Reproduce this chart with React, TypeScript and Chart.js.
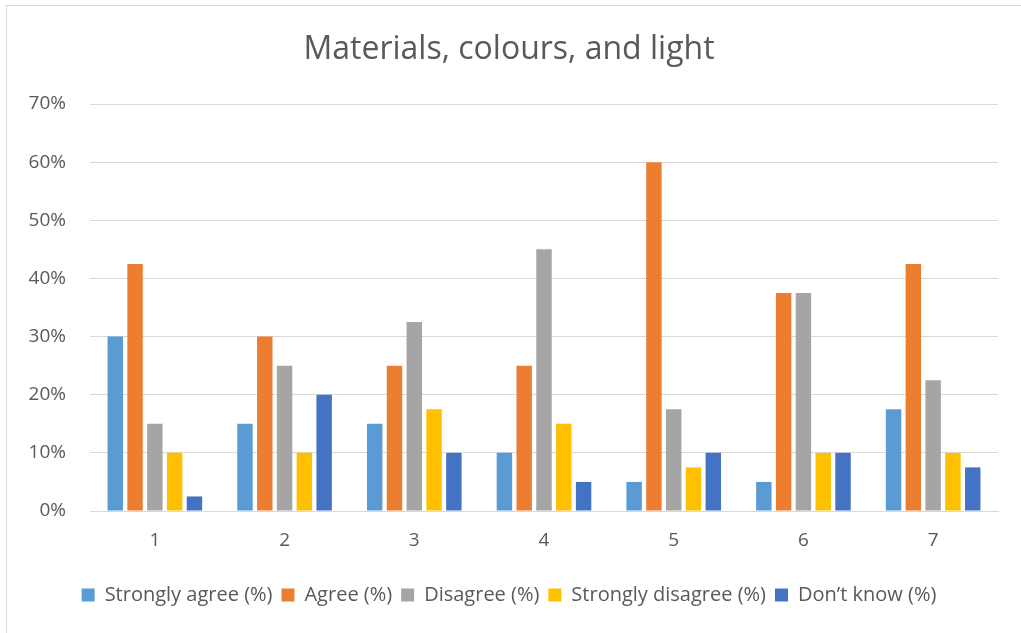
import React, { useEffect, useRef } from "react";
import { Chart, registerables } from "chart.js";

Chart.register(...registerables);

const categories = ["1", "2", "3", "4", "5", "6", "7"];
const stronglyAgree = [30, 15, 15, 10, 5, 5, 17.5];
const agree = [42.5, 30, 25, 25, 60, 37.5, 42.5];
const disagree = [15, 25, 32.5, 45, 17.5, 37.5, 22.5];
const stronglyDisagree = [10, 10, 17.5, 15, 7.5, 10, 10];
const dontKnow = [2.5, 20, 10, 5, 10, 10, 7.5];
const seriesNames = [
  "Strongly agree (%)",
  "Agree (%)",
  "Disagree (%)",
  "Strongly disagree (%)",
  "Don\u2019t know (%)",
];
const seriesColors = ["#5B9BD5", "#ED7D31", "#A5A5A5", "#FFC000", "#4472C4"];
const title = "Materials, colours, and light";

const FONT = "'Open Sans', Lato, sans-serif";
const TEXT = "#595959";

export default function App() {
  const ref = useRef<HTMLCanvasElement | null>(null);
  useEffect(() => {
    if (!ref.current) return;
    const values = [stronglyAgree, agree, disagree, stronglyDisagree, dontKnow];
    const chart = new Chart(ref.current, {
      type: "bar",
      data: {
        labels: categories,
        datasets: values.map((v, i) => ({
          label: seriesNames[i],
          data: v,
          backgroundColor: seriesColors[i],
          borderWidth: 0,
          barPercentage: 0.78,
          categoryPercentage: 0.763,
        })),
      },
      options: {
        animation: false,
        responsive: true,
        maintainAspectRatio: false,
        layout: { padding: { left: 20, right: 23, top: 0, bottom: 18 } },
        plugins: {
          title: {
            display: true,
            text: title,
            color: TEXT,
            font: { family: FONT, size: 32, weight: "normal", lineHeight: 1.2 },
            padding: { top: 31, bottom: 34.6 },
          },
          legend: {
            position: "bottom",
            labels: {
              color: TEXT,
              font: { family: FONT, size: 20 },
              boxWidth: 13,
              boxHeight: 13,
              padding: 9,
            },
          },
          tooltip: { enabled: false },
        },
        scales: {
          x: {
            grid: { display: false, drawTicks: false },
            border: { display: true, color: "#d9d9d9", width: 1 },
            ticks: { color: TEXT, font: { family: FONT, size: 19 }, padding: 18 },
            afterFit: (s: any) => {
              s.height = 65;
            },
          },
          y: {
            min: 0,
            max: 70,
            grid: { color: "#d9d9d9", lineWidth: 1, drawTicks: false },
            border: { display: false },
            ticks: {
              stepSize: 10,
              color: TEXT,
              padding: 24,
              font: { family: FONT, size: 19 },
              callback: (v: any) => v + "%",
            },
            afterFit: (s: any) => {
              s.width = 70;
            },
          },
        },
      },
    });
    return () => chart.destroy();
  }, []);
  return (
    <div style={{ position: "fixed", left: 0, top: 0, width: 1021, height: 633, background: "#fff", overflow: "hidden" }}>
      <div
        style={{
          position: "absolute",
          left: 6,
          top: 5,
          width: 1040,
          height: 660,
          border: "1px solid #d9d9d9",
        }}
      />
      <div style={{ position: "absolute", left: 0, top: 0, width: 1021, height: 633 }}>
        <canvas ref={ref} />
      </div>
    </div>
  );
}
